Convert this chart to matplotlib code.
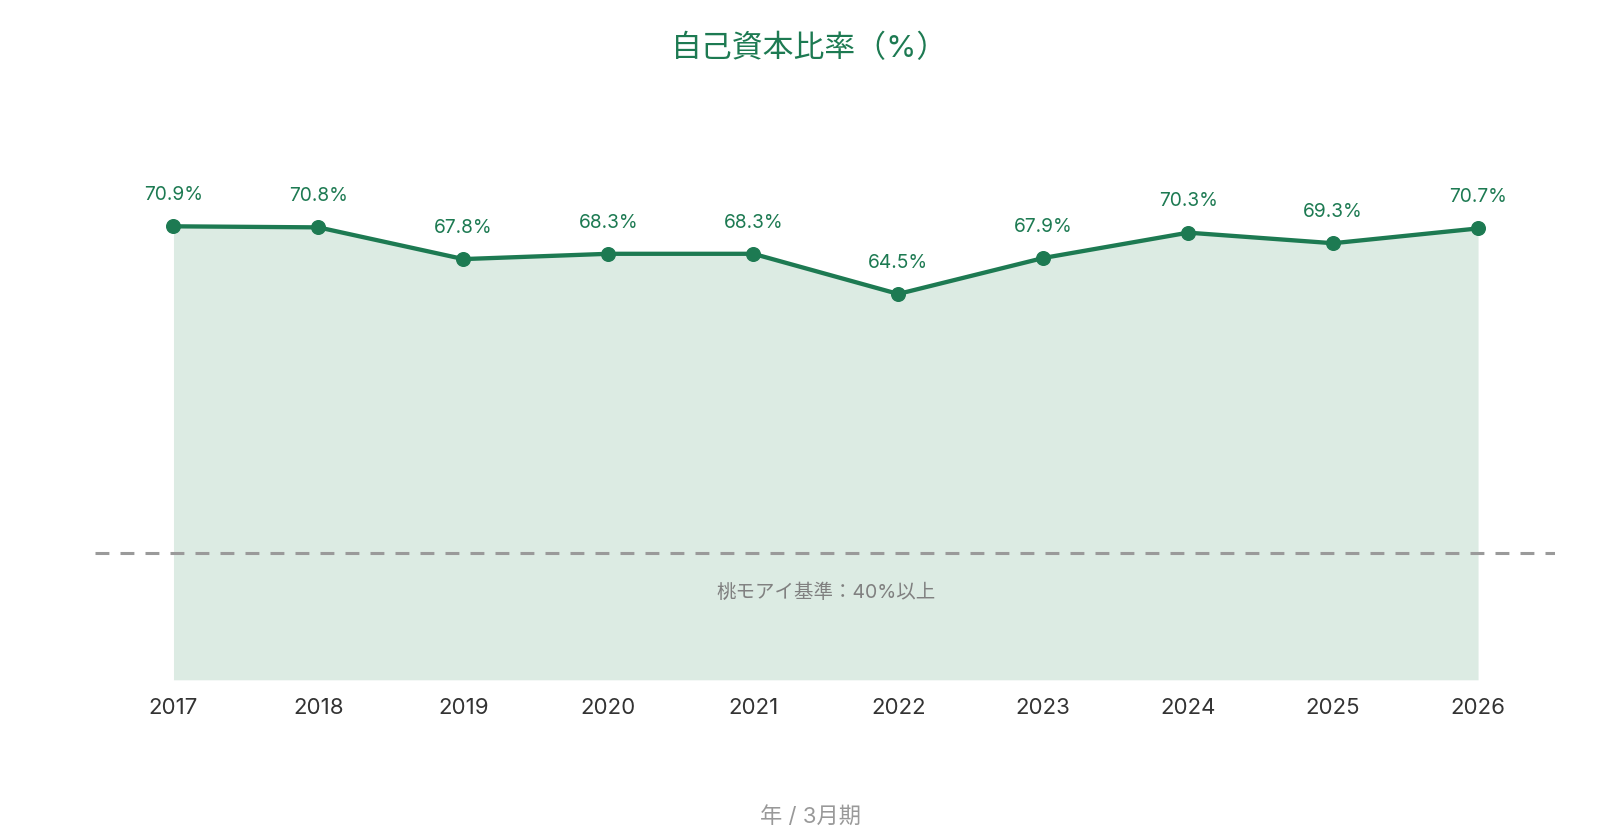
import matplotlib
matplotlib.use("Agg")
from matplotlib import pyplot as plt

# Latin text in Inter, Japanese falls through to Noto CJK
plt.rcParams['font.family'] = ['Inter', 'Noto Sans CJK JP', 'DejaVu Sans']
plt.rcParams['lines.scale_dashes'] = False

years = ['2017', '2018', '2019', '2020', '2021', '2022', '2023', '2024', '2025', '2026']
ratios = [70.9, 70.8, 67.8, 68.3, 68.3, 64.5, 67.9, 70.3, 69.3, 70.7]
baseline = 40
baseline_label = '桃モアイ基準：40%以上'

green = '#1d7a52'
fill_green = '#dcebe3'

fig = plt.figure(figsize=(16.2, 8.4), dpi=100)
ax = fig.add_axes([0.0586, 0.1907, 0.9012, 0.6544])

xs = list(range(len(years)))
ax.fill_between(xs, ratios, 28, color=fill_green, lw=0, zorder=1)
ax.plot(xs, ratios, color=green, lw=3.1, marker='o', ms=9.8, zorder=3)

for x, v in zip(xs, ratios):
    ax.annotate(f'{v:.1f}%', (x, v), xytext=(0, 22.5), textcoords='offset points',
                ha='center', va='center', fontsize=13.8, color=green)

ax.axhline(baseline, color='#9a9a9a', lw=2.2, dashes=(10, 8), zorder=2)
ax.text(4.5, baseline - 3.75, baseline_label, ha='center', va='center',
        fontsize=14, color='#808080', zorder=4)

ax.set_xlim(-0.542, 9.53)
ax.set_ylim(28, 80)
ax.set_xticks(xs)
ax.set_xticklabels(years, fontsize=16, color='#333333')
ax.set_yticks([])
ax.tick_params(axis='x', length=0, pad=13)
for s in ax.spines.values():
    s.set_visible(False)

fig.text(0.5, 1 - 48.6 / 840, '自己資本比率（%）', ha='center', va='center',
         fontsize=22.2, color=green)
fig.text(0.5, 1 - 816 / 840, '年 / 3月期', ha='center', va='center',
         fontsize=16, color='#999999')

fig.savefig('out.png', dpi=100)
